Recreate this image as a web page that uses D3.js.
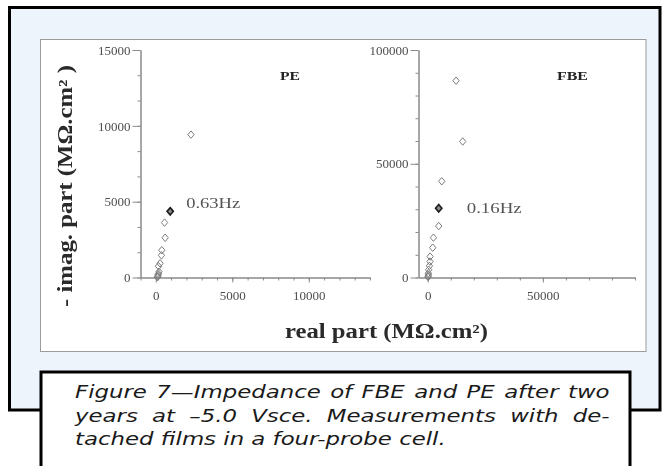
<!DOCTYPE html>
<html>
<head>
<meta charset="utf-8">
<script src="https://cdn.jsdelivr.net/npm/d3@7"></script>
<style>
  html, body { margin: 0; padding: 0; background: #fff; }
  svg { display: block; }
</style>
</head>
<body>
<script>
// Impedance (Nyquist) data, MΩ.cm²: real part on x, minus imaginary part on y.
const peReal = [110, 120, 135, 150, 175, 210, 175, 280, 370, 390, 610, 570, 940, 2300];
const peImag = [20, 50, 100, 170, 260, 380, 745, 930, 1460, 1800, 2620, 3620, 4360, 9420];
const peMarked = 12;           // index of the 0.63 Hz point
const peFreqLabel = "0.63Hz";

const fbeReal = [150, 200, 290, 290, 430, 740, 1000, 1040, 2170, 2480, 4780, 4780, 6100, 15200, 12300];
const fbeImag = [200, 500, 1200, 1900, 3400, 5100, 7000, 9200, 13100, 17500, 22600, 30400, 42300, 59800, 86500];
const fbeMarked = 11;          // index of the 0.16 Hz point
const fbeFreqLabel = "0.16Hz";

// Axis ticks
const peXMajor = [0, 5000, 10000];
const peXMinor = d3.range(-1000, 14001, 1000);
const peYMajor = [0, 5000, 10000, 15000];
const peYMinor = d3.range(0, 15001, 5000 / 3);
const fbeXMajor = [0, 50000];
const fbeXMinor = d3.range(10000, 90001, 10000);
const fbeYMajor = [0, 50000, 100000];
const fbeYMinor = d3.range(0, 100001, 10000);

const peTitle = "PE";
const fbeTitle = "FBE";
const yTitle = "- imag. part (M\u03A9.cm\u00B2 )";
const xTitle = "real part (M\u03A9.cm\u00B2)";
const captionLines = [
  "Figure 7\u2014Impedance of FBE and PE after two",
  "years at \u20135.0 Vsce. Measurements with de-",
  "tached films in a four-probe cell."
];

const W = 663, H = 466;
const svg = d3.select("body").append("svg").attr("width", W).attr("height", H);

const defs = svg.append("defs");
defs.append("filter").attr("id", "soft")
  .append("feGaussianBlur").attr("stdDeviation", 0.45);

// Outer light-blue panel
svg.append("rect")
  .attr("x", 9.5).attr("y", 7.5).attr("width", 650.5).attr("height", 402.5)
  .attr("fill", "#edf4fc").attr("stroke", "#000").attr("stroke-width", 3);

// White plotting card
svg.append("rect")
  .attr("x", 40.5).attr("y", 39.5).attr("width", 605.5).attr("height", 312)
  .attr("fill", "#fff").attr("stroke", "#9c9c9c").attr("stroke-width", 1);

const chart = svg.append("g").attr("filter", "url(#soft)");

const serif = "'Liberation Serif', 'Times New Roman', serif";
const axisColor = "#8a8a8a";

// Diamond marker
const diamond = {
  draw(ctx, size) {
    const r = Math.sqrt(size) / 2;
    const rx = r * 0.85;
    ctx.moveTo(0, -r);
    ctx.lineTo(rx, 0);
    ctx.lineTo(0, r);
    ctx.lineTo(-rx, 0);
    ctx.closePath();
  }
};

const panels = [
  {
    real: peReal, imag: peImag, marked: peMarked, freq: peFreqLabel,
    xDomain: [-1000, 14000], xRange: [140.5, 370],
    yDomain: [0, 15000],
    xMajor: peXMajor, xMinor: peXMinor, yMajor: peYMajor, yMinor: peYMinor,
    title: peTitle, titleX: 290, titleLen: 20,
    labelDx: 16, labelDy: -3.5, labelLen: 54
  },
  {
    real: fbeReal, imag: fbeImag, marked: fbeMarked, freq: fbeFreqLabel,
    xDomain: [-4000, 90000], xRange: [418.5, 635],
    yDomain: [0, 100000],
    xMajor: fbeXMajor, xMinor: fbeXMinor, yMajor: fbeYMajor, yMinor: fbeYMinor,
    title: fbeTitle, titleX: 572.5, titleLen: 31,
    labelDx: 28, labelDy: 5, labelLen: 55
  }
];

function styleAxis(g) {
  g.select(".domain").attr("stroke", axisColor).attr("stroke-width", 1);
  g.selectAll(".tick line").attr("stroke", axisColor).attr("stroke-width", 1);
  g.selectAll(".tick text").attr("fill", "#4d4d4d")
    .attr("font-family", serif).attr("font-size", 13);
}

panels.forEach(p => {
  const x = d3.scaleLinear().domain(p.xDomain).range(p.xRange);
  const y = d3.scaleLinear().domain(p.yDomain).range([277.5, 50]);
  const g = chart.append("g");

  // y axis (minor then major)
  g.append("g").attr("transform", `translate(${x(p.xDomain[0])},0)`)
    .call(d3.axisLeft(y).tickValues(p.yMinor).tickSize(3).tickSizeOuter(0).tickFormat(""))
    .call(styleAxis);
  g.append("g").attr("transform", `translate(${x(p.xDomain[0])},0)`)
    .call(d3.axisLeft(y).tickValues(p.yMajor).tickSize(8).tickSizeOuter(0).tickPadding(2)
      .tickFormat(d3.format("d")))
    .call(styleAxis);

  // x axis (minor then major)
  g.append("g").attr("transform", `translate(0,${y(0)})`)
    .call(d3.axisBottom(x).tickValues(p.xMinor).tickSize(3).tickSizeOuter(0).tickFormat(""))
    .call(styleAxis);
  const xa = g.append("g").attr("transform", `translate(0,${y(0)})`)
    .call(d3.axisBottom(x).tickValues(p.xMajor).tickSize(5).tickSizeOuter(0)
      .tickFormat(d3.format("d")))
    .call(styleAxis);
  xa.selectAll(".tick text").attr("y", 22).attr("dy", 0);

  // Points
  const pts = p.real.map((r, i) => ({ r, im: p.imag[i], marked: i === p.marked }));
  const sym = d3.symbol().type(diamond).size(56);
  g.selectAll("path.pt").data(pts.filter(d => !d.marked)).join("path")
    .attr("class", "pt")
    .attr("d", sym)
    .attr("transform", d => `translate(${x(d.r)},${y(d.im)})`)
    .attr("fill", "#fff").attr("fill-opacity", 0)
    .attr("stroke", "#7d7d7d").attr("stroke-width", 1);
  const m = pts[p.marked];
  g.append("path")
    .attr("d", sym)
    .attr("transform", `translate(${x(m.r)},${y(m.im)})`)
    .attr("fill", "#8a8a8a").attr("stroke", "#1e1e1e").attr("stroke-width", 1.6);

  // Frequency label next to the marked point
  g.append("text")
    .attr("x", x(m.r) + p.labelDx).attr("y", y(m.im) + p.labelDy)
    .attr("font-family", serif).attr("font-size", 15).attr("fill", "#555")
    .attr("textLength", p.labelLen).attr("lengthAdjust", "spacingAndGlyphs")
    .text(p.freq);

  // Panel title
  g.append("text")
    .attr("x", p.titleX).attr("y", 80).attr("text-anchor", "middle")
    .attr("font-family", serif).attr("font-size", 13).attr("font-weight", "bold")
    .attr("fill", "#222")
    .attr("textLength", p.titleLen).attr("lengthAdjust", "spacingAndGlyphs")
    .text(p.title);
});

// Axis titles
chart.append("text")
  .attr("transform", "translate(72,186) rotate(-90)")
  .attr("text-anchor", "middle")
  .attr("font-family", serif).attr("font-size", 20).attr("font-weight", "bold")
  .attr("fill", "#2a2a2a")
  .attr("textLength", 242).attr("lengthAdjust", "spacingAndGlyphs")
  .text(yTitle);

chart.append("text")
  .attr("x", 285).attr("y", 338)
  .attr("font-family", serif).attr("font-size", 20).attr("font-weight", "bold")
  .attr("fill", "#2a2a2a")
  .attr("textLength", 203).attr("lengthAdjust", "spacingAndGlyphs")
  .text(xTitle);

// Caption box
svg.append("rect")
  .attr("x", 41).attr("y", 372).attr("width", 589).attr("height", 130)
  .attr("fill", "#fff").attr("stroke", "#000").attr("stroke-width", 3);

// Caption: wide italic sans, justified on the first two lines
const captionX = 75;
const captionRight = 610;
const captionY = [398.5, 421.8, 445];
const lastLineWidth = 371;
const capFont = 17;
const cap = svg.append("g");
const capTexts = cap.selectAll("text").data(captionLines).join("text")
  .attr("font-family", "'DejaVu Sans', sans-serif")
  .attr("font-style", "italic")
  .attr("font-size", capFont)
  .attr("fill", "#1a1a1a")
  .text(d => d);
const natural = capTexts.nodes().map(n => n.getComputedTextLength());
const sx = lastLineWidth / natural[2];   // horizontal widening of the glyphs
cap.attr("transform", `translate(${captionX},0) scale(${sx},1)`);
capTexts
  .attr("x", 0)
  .attr("y", (d, i) => captionY[i])
  .attr("word-spacing", (d, i) => {
    if (i === captionLines.length - 1) return 0;
    const gaps = d.split(" ").length - 1;
    const target = (captionRight - captionX) / sx;
    return Math.max(0, (target - natural[i]) / gaps);
  });
</script>
</body>
</html>
